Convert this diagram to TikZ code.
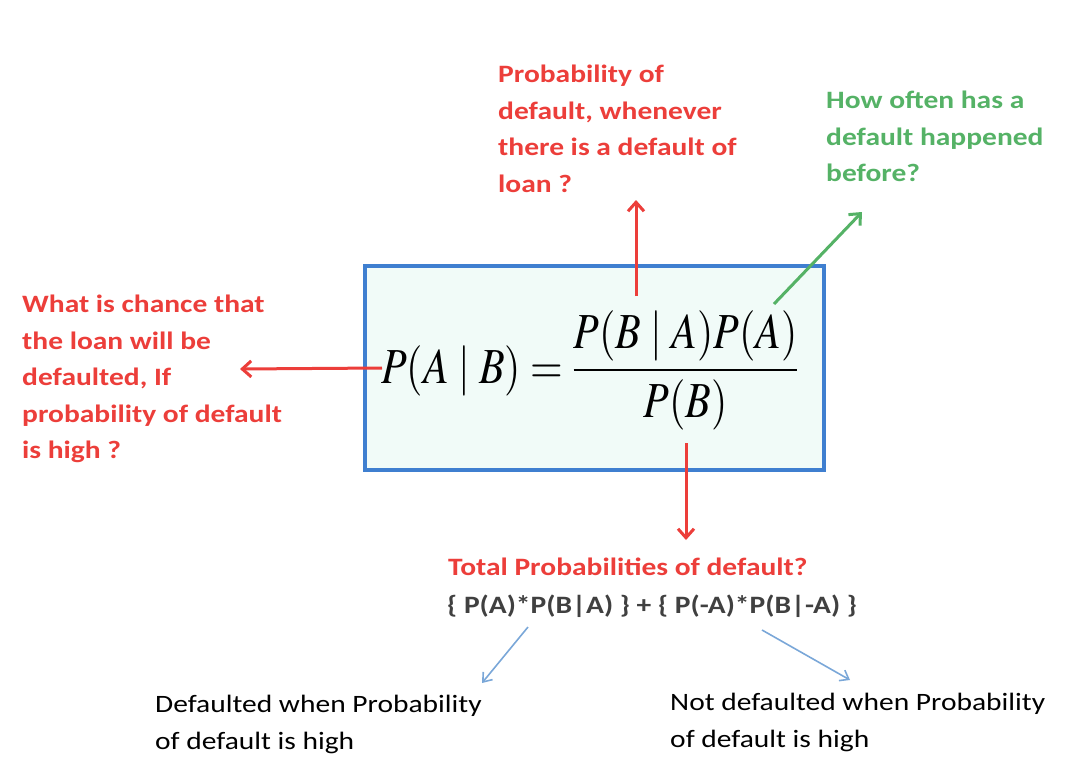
\documentclass[tikz,border=0pt]{standalone}
\usepackage{amsmath}
\usepackage{graphicx}
\usepackage[no-math]{fontspec}
\usepackage{mathptmx}
\setmainfont{Carlito}[FakeStretch=1.18]
\usetikzlibrary{arrows.meta}
\definecolor{qred}{HTML}{EC3E3A}
\definecolor{qgreen}{HTML}{55B266}
\definecolor{qblue}{HTML}{3F7FD0}
\definecolor{qlblue}{HTML}{7AA7D8}
\definecolor{qfill}{HTML}{F1FBF8}
\definecolor{qgray}{HTML}{404040}
\tikzset{
  txt/.style={inner sep=0pt, align=left, font=\fontsize{25}{36.5}\selectfont},
  redtxt/.style={txt, text=qred, font=\fontsize{25}{36.5}\selectfont\bfseries},
  greentxt/.style={txt, text=qgreen, font=\fontsize{25}{36.5}\selectfont\bfseries},
  redarrow/.style={draw=qred, line width=3pt, -{Straight Barb[length=9pt,width=16pt]}},
  greenarrow/.style={draw=qgreen, line width=3pt, -{Straight Barb[length=9pt,width=16pt]}},
  bluearrow/.style={draw=qlblue, line width=1.6pt, -{Straight Barb[length=8pt,width=12pt]}}
}
\begin{document}
\begin{tikzpicture}[x=1pt,y=-1pt]
\useasboundingbox (0,0) rectangle (1088,780);

% formula box
\node[draw=qblue, fill=qfill, line width=4pt, minimum width=459pt, minimum height=204pt] (box) at (594.5,368) {};
\node[inner sep=0pt, anchor=base west, font=\fontsize{42}{50}\selectfont] (bayes) at (381,383)
  {\scalebox{1}[1.2]{$P(A\mid B)=\dfrac{P(B\mid A)P(A)}{P(B)}$}};

% questions
\node[redtxt, anchor=north west] (lhs) at (22,295)
  {What is chance that\\the loan will be\\defaulted, If\\probability of default\\is high ?};
\node[redtxt, anchor=north west] (like) at (498,65)
  {Probability of\\default, whenever\\there is a default of\\loan ?};
\node[greentxt, anchor=north west] (prior) at (826,91)
  {How often has a\\default happened\\before?};
\node[redtxt, anchor=base west] (total) at (448,575) {Total Probabilities of default?};
\node[txt, anchor=base west, text=qgray, font=\fontsize{25}{36.5}\selectfont\bfseries] (sum) at (447,613)
  {\{ P(A)*P(B|A) \} + \{ P(-A)*P(B|-A) \}};
\node[txt, anchor=north west] (yes) at (155,695)
  {Defaulted when Probability\\of default is high};
\node[txt, anchor=north west] (no) at (670,693)
  {Not defaulted when Probability\\of default is high};

% arrow ends
\coordinate (pa) at (382,368);
\coordinate (paend) at (240,369);
\coordinate (pba) at (636,296);
\coordinate (pbaend) at (636,200);
\coordinate (pr) at (774,304);
\coordinate (prend) at (862,212);
\coordinate (pb) at (686,443);
\coordinate (pbend) at (686,540);
\coordinate (s1) at (528,627);
\coordinate (s1end) at (482,683);
\coordinate (s2) at (762,630);
\coordinate (s2end) at (850,680);

\draw[redarrow] (pa)--(paend);
\draw[redarrow] (pba)--(pbaend);
\draw[greenarrow] (pr)--(prend);
\draw[redarrow] (pb)--(pbend);
\draw[bluearrow] (s1)--(s1end);
\draw[bluearrow] (s2)--(s2end);
\end{tikzpicture}
\end{document}
